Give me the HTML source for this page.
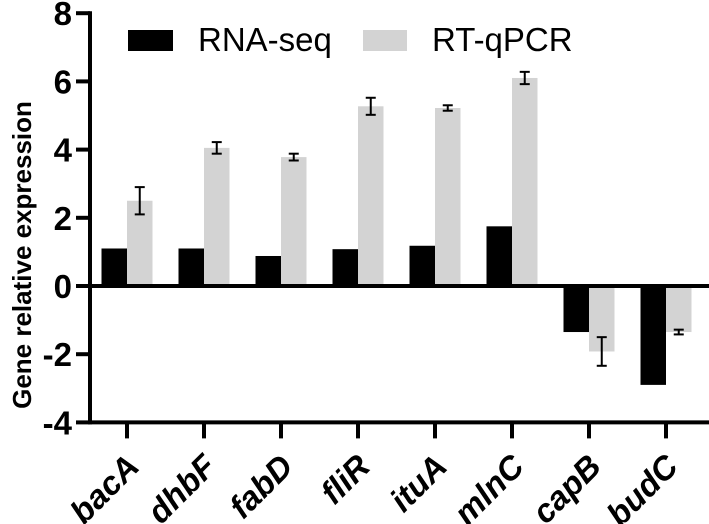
<!DOCTYPE html>
<html><head><meta charset="utf-8"><style>
body{margin:0;background:#fff}
svg text{font-family:"Liberation Sans",Arial,sans-serif}
</style></head><body>
<svg width="709" height="524" id="c" style="position:absolute;left:0;top:0"></svg>
<script>
const categories=["bacA","dhbF","fabD","fliR","ituA","mlnC","capB","budC"];
const rnaSeq=[1.1,1.1,0.88,1.08,1.18,1.75,-1.35,-2.9];
const rtqpcr=[2.5,4.05,3.78,5.27,5.22,6.1,-1.92,-1.35];
const rtErr=[0.4,0.17,0.1,0.25,0.08,0.18,0.42,0.07];
const yTicks=[-4,-2,0,2,4,6,8];
const NS="http://www.w3.org/2000/svg";
const svg=document.getElementById('c');
const y=v=>286-v*34.1;
const x=i=>127+i*77;
const bw=25.5;
function el(t,a,p){const e=document.createElementNS(NS,t);for(const k in a)e.setAttribute(k,a[k]);(p||svg).appendChild(e);return e;}
categories.forEach((c,i)=>{
 let v=rnaSeq[i];
 let r=el('rect',{x:x(i)-bw,y:Math.min(y(v),y(0)),width:bw,height:Math.abs(y(v)-y(0)),fill:'#000'});
 
 
 v=rtqpcr[i];
 r=el('rect',{x:x(i),y:Math.min(y(v),y(0)),width:bw,height:Math.abs(y(v)-y(0)),fill:'#d3d3d3'});
 
 
 const cx=x(i)+bw/2,e=rtErr[i];
 const g=el('g',{stroke:'#000','stroke-width':2});
 
 
 el('line',{x1:cx,x2:cx,y1:y(v-e),y2:y(v+e)},g);
 el('line',{x1:cx-5,x2:cx+5,y1:y(v-e),y2:y(v-e)},g);
 el('line',{x1:cx-5,x2:cx+5,y1:y(v+e),y2:y(v+e)},g);
 const t=el('line',{x1:x(i),x2:x(i),y1:y(-4),y2:y(-4)+16,stroke:'#000','stroke-width':4});
 
 
 const l=el('text',{x:0,y:0,'font-size':33,'font-weight':'bold','font-style':'italic','text-anchor':'end',transform:`translate(${x(i)+14},${y(-4)+46}) rotate(-45)`});
 l.textContent=c;
 
 
});
let a=el('line',{x1:90,x2:90,y1:y(8)-2,y2:y(-4)+2,stroke:'#000','stroke-width':4});

a=el('line',{x1:88,x2:709,y1:y(0),y2:y(0),stroke:'#000','stroke-width':4});

a=el('line',{x1:88,x2:709,y1:y(-4),y2:y(-4),stroke:'#000','stroke-width':4});

yTicks.forEach(v=>{
 const t=el('line',{x1:76,x2:90,y1:y(v),y2:y(v),stroke:'#000','stroke-width':4});
 
 
 const l=el('text',{x:72,y:y(v)+12,'font-size':33,'font-weight':'bold','text-anchor':'end'});
 l.textContent=v;
 
 
});
</script>
<svg style="position:absolute;left:0;top:0" width="709" height="524">
<text transform="translate(31,255) rotate(-90)" text-anchor="middle" font-size="26" font-weight="bold" font-family="Liberation Sans,sans-serif">Gene relative expression</text>
<g font-family="Liberation Sans,sans-serif" font-size="33">
<rect x="128" y="30" width="45" height="21" fill="#000"/>
<text x="198" y="51">RNA-seq</text>
<rect x="363" y="30" width="44" height="21" fill="#d3d3d3"/>
<text x="432" y="51">RT-qPCR</text>
</g>
</svg>
</body></html>
